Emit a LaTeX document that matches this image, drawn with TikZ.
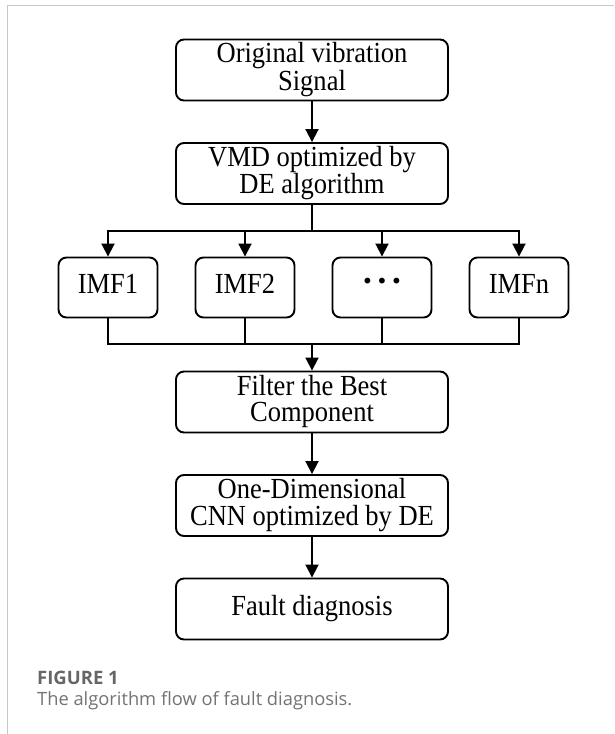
\documentclass[tikz,border=0pt]{standalone}
\usepackage{graphicx}
\usepackage{fontspec}
\setmainfont{Liberation Serif}
\newfontfamily\capfont{Open Sans}
\newfontfamily\dotfont{DejaVu Sans}
\usetikzlibrary{arrows.meta}
\newcommand\talltext[1]{\scalebox{1.02}[1.12]{\begin{tabular}{@{}c@{}}#1\end{tabular}}}
\begin{document}
\begin{tikzpicture}[x=1pt,y=-1pt,
  box/.style={draw, line width=1.9pt, rounded corners=8pt, minimum width=272pt, minimum height=61pt, inner sep=0pt, align=center, font=\fontsize{26}{21.5}\selectfont},
  small/.style={box, minimum width=99pt, minimum height=60pt},
  conn/.style={line width=1.9pt, line cap=rect},
  arr/.style={line width=1.9pt, -{Triangle[width=13pt,length=13pt]}},
  captitle/.style={anchor=base west, inner sep=0pt, font=\capfont\bfseries\fontsize{18.5}{18}\selectfont, text=black!60},
  captext/.style={anchor=base west, inner sep=0pt, font=\capfont\fontsize{18.3}{18}\selectfont, text=black!55},
]
\path[use as bounding box] (0,0) rectangle (614,734);
\draw[black!22, line width=1.5pt] (7.3,734) -- (7.3,5.7) -- (614,5.7);

\node[box] (b1) at (312,70) {\talltext{Original vibration\\Signal}};
\node[box] (b2) at (312,173.5) {\talltext{VMD optimized by\\DE algorithm}};
\node[small] (i1) at (108,287.5) {\talltext{IMF1}};
\node[small] (i2) at (245,287.5) {\talltext{IMF2}};
\node[small] (i3) at (382,287.5) {\raisebox{9pt}{\dotfont\fontsize{20}{20}\selectfont\char"2022\hspace{2.7pt}\char"2022\hspace{2.7pt}\char"2022}};
\node[small] (i4) at (519,287.5) {\talltext{IMFn}};
\node[box] (b3) at (312,402) {\talltext{Filter the Best\\Component}};
\node[box] (b4) at (312,505.5) {\talltext{One-Dimensional\\CNN optimized by DE}};
\node[box] (b5) at (312,609) {\talltext{Fault diagnosis}};
\coordinate (split) at (312,231);
\coordinate (merge) at (312,344);

\draw[arr] (b1) -- (b2);
\draw[conn] (b2.south) -- (split);
\draw[conn] (i1.north |- split) -- (i4.north |- split);
\foreach \i in {1,...,4} \draw[arr] (i\i.north |- split) -- (i\i.north);
\foreach \i in {1,...,4} \draw[conn] (i\i.south) -- (i\i.south |- merge);
\draw[conn] (i1.south |- merge) -- (i4.south |- merge);
\draw[arr] (merge) -- (b3.north);
\draw[arr] (b3) -- (b4);
\draw[arr] (b4) -- (b5);

\node[captitle] (fig) at (37,684) {FIGURE 1};
\node[captext] (cap) at (37,705) {The algorithm flow of fault diagnosis.};
\end{tikzpicture}
\end{document}
